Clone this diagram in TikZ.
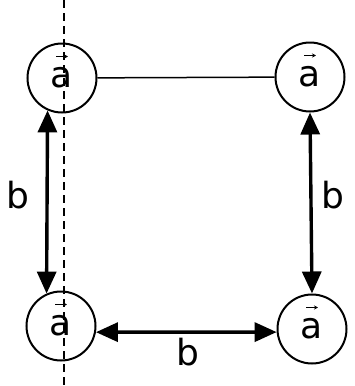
\documentclass[tikz,border=0pt]{standalone}
\usepackage{fontspec}
\setmainfont{DejaVu Sans}
\usetikzlibrary{arrows.meta}

\begin{document}
\begin{tikzpicture}[x=1pt,y=-1pt,font=\fontsize{36}{36}\selectfont,
    site/.style={circle,draw,line width=2pt,minimum size=69pt,inner sep=0pt,
      path picture={\draw[line width=1.2pt,-{Stealth[length=4pt,width=4pt]}]
        ([xshift=-6pt,yshift=21.5pt]path picture bounding box.center) -- ++(12pt,0pt);}},
    lbl/.style={inner sep=0pt},
    dbl/.style={{Triangle[length=22pt,width=19pt]}-{Triangle[length=22pt,width=19pt]},line width=3.4pt},
    bond/.style={line width=1.5pt},
    axis/.style={line width=2.2pt,dash pattern=on 8pt off 5pt}]
  \useasboundingbox (0,0) rectangle (354,386);
  \node[site] (tl) at (62,78)  {a};
  \node[site] (tr) at (310,77) {a};
  \node[site] (bl) at (61,326) {a};
  \node[site] (br) at (312,329) {a};
  \node[lbl] (bleft)  at (18,195)  {b};
  \node[lbl] (bright) at (333,195) {b};
  \node[lbl] (bbot)   at (188,352) {b};
  \draw[bond] (tl) -- (tr);
  \draw[dbl] (tl.246) -- (bl.114);
  \draw[dbl] (tr.south) -- (br.north);
  \draw[dbl] (bl.-10) -- (br.185);
  % mirror line
  \coordinate (axtop) at (64,0);
  \coordinate (axbot) at (64,386);
  \draw[axis] (axtop) -- (axbot);
\end{tikzpicture}
\end{document}
